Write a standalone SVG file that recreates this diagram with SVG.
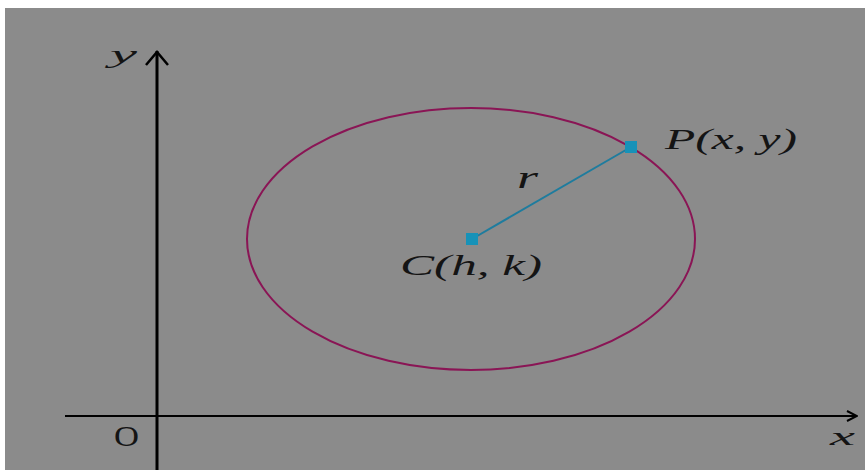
<svg xmlns="http://www.w3.org/2000/svg" width="865" height="470" viewBox="0 0 865 470">
  <defs>
    <style>
      .lbl { font-family: "Liberation Serif", "DejaVu Serif", serif; fill: #141414; font-style: italic; }
      .up { font-style: normal; }
      .axis { stroke: #000; fill: none; }
      .pt { fill: #1792b8; }
    </style>
    <marker id="arr" viewBox="0 0 12 12" refX="11" refY="6" markerWidth="12" markerHeight="12" markerUnits="userSpaceOnUse" orient="auto">
      <path d="M1,1 L11,6 L1,11" fill="none" stroke="#000" stroke-width="2"/>
    </marker>
    <marker id="arrY" viewBox="0 0 24 16" refX="12" refY="1" markerWidth="24" markerHeight="16" markerUnits="userSpaceOnUse" orient="0">
      <path d="M1,15 L12,2 L23,15" fill="none" stroke="#000" stroke-width="2.5"/>
    </marker>
  </defs>
  <rect x="0" y="0" width="865" height="470" fill="#ffffff"/>
  <rect x="5" y="8" width="860" height="462" fill="#8b8b8b"/>

  <g id="axes">
    <line class="axis" x1="65" y1="416" x2="857" y2="416" stroke-width="2" marker-end="url(#arr)"/>
    <line class="axis" x1="157" y1="470" x2="157" y2="51" stroke-width="3" marker-end="url(#arrY)"/>
    <text class="lbl" x="110" y="63" font-size="26" textLength="27" lengthAdjust="spacingAndGlyphs">y</text>
    <text class="lbl" x="830" y="445" font-size="26" textLength="25" lengthAdjust="spacingAndGlyphs">x</text>
    <text class="lbl up" x="114" y="446" font-size="30" textLength="25" lengthAdjust="spacingAndGlyphs">O</text>
  </g>

  <g id="circle">
    <ellipse cx="471" cy="239" rx="224" ry="131" fill="none" stroke="#8a1555" stroke-width="2"/>
  </g>

  <g id="connectors">
    <line x1="472" y1="239" x2="631" y2="147" stroke="#1e7c9e" stroke-width="2"/>
    <text class="lbl" x="517" y="188" font-size="32" textLength="21" lengthAdjust="spacingAndGlyphs">r</text>
  </g>

  <g id="C">
    <rect class="pt" x="466" y="233" width="12" height="12"/>
    <text class="lbl" x="400" y="275" font-size="30" textLength="142" lengthAdjust="spacingAndGlyphs">C(h, k)</text>
  </g>

  <g id="P">
    <rect class="pt" x="625" y="141" width="12" height="12"/>
    <text class="lbl" x="665" y="149" font-size="30" textLength="132" lengthAdjust="spacingAndGlyphs">P(x, y)</text>
  </g>
</svg>
